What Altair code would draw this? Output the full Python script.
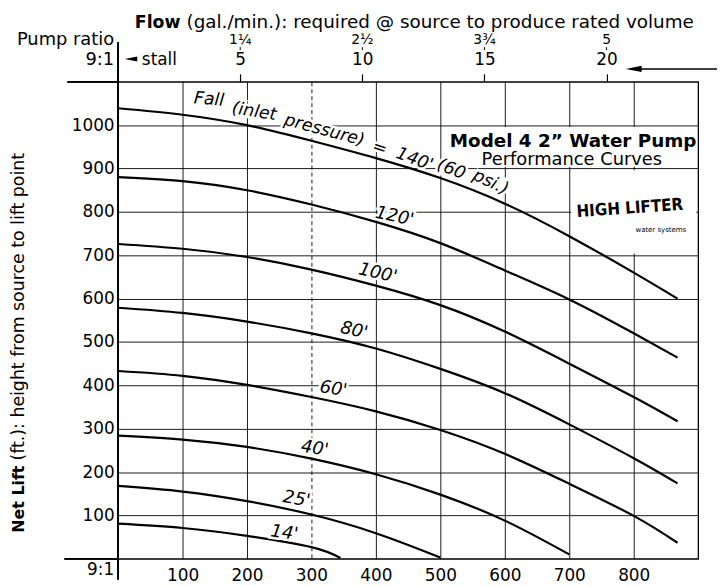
import altair as alt
import pandas as pd

# ---------------- data ----------------
falls = ["140'", "120'", "100'", "80'", "60'", "40'", "25'", "14'"]
x_long = [0, 100, 200, 300, 400, 500, 600, 700, 800, 868]
lift_140 = [1039, 1024, 1000, 964, 924, 878, 819, 744, 660, 600]
lift_120 = [880, 871, 850, 817, 777, 728, 665, 598, 520, 464]
lift_100 = [726, 715, 696, 667, 630, 585, 524, 450, 373, 317]
lift_80 = [579, 567, 547, 520, 485, 438, 382, 310, 232, 174]
lift_60 = [433, 422, 401, 373, 340, 297, 242, 173, 99, 37]
x_40 = [0, 100, 200, 300, 400, 500, 600, 700]
lift_40 = [284, 275, 258, 231, 195, 148, 88, 10]
x_25 = [0, 100, 200, 300, 400, 500]
lift_25 = [168, 155, 133, 102, 59, 3]
x_14 = [0, 100, 200, 300, 345]
lift_14 = [81, 71, 53, 27, 2]

x_ticks = [100, 200, 300, 400, 500, 600, 700, 800]
y_ticks = [100, 200, 300, 400, 500, 600, 700, 800, 900, 1000]

flow_gpm = [5, 10, 15, 20]
flow_frac = ["1¼", "2½", "3¾", "5"]

curve_label_text = ["120'", "100'", "80'", "60'", "40'", "25'", "14'"]
curve_label_x = [429, 403, 366, 334, 305, 277, 258]
curve_label_y = [789, 658, 526, 391, 254, 137, 59]
curve_label_angle = [12, 13, 13, 9, 9, 9, 8]

fall_words = ["Fall", "(inlet", "pressure)", "=", "140'", "(60", "psi.)"]
fall_x = [141, 211, 320, 406, 460, 517, 578]
fall_y = [1059, 1031, 988, 947, 921, 898, 868]
fall_angle = [5, 9, 15, 18, 20, 22, 25]

# white panels behind the title block and the logo
box_x1 = [503, 703]
box_x2 = [897, 897]
box_y1 = [904, 704]
box_y2 = [996, 896]

FONT = "DejaVu Sans"

rows = []
series = [
    ("140'", x_long, lift_140), ("120'", x_long, lift_120), ("100'", x_long, lift_100),
    ("80'", x_long, lift_80), ("60'", x_long, lift_60), ("40'", x_40, lift_40),
    ("25'", x_25, lift_25), ("14'", x_14, lift_14),
]
for name, xs, ys in series:
    for i, (a, b) in enumerate(zip(xs, ys)):
        rows.append({"fall": name, "flow": a, "lift": b, "idx": i})
curve_df = pd.DataFrame(rows)

lab_df = pd.DataFrame({"t": curve_label_text, "lx": curve_label_x, "ly": curve_label_y,
                       "ang": curve_label_angle})
fall_df = pd.DataFrame({"t": fall_words, "lx": fall_x, "ly": fall_y, "ang": fall_angle})
box_df = pd.DataFrame({"x1": box_x1, "x2": box_x2, "y1": box_y1, "y2": box_y2})
top_df = pd.DataFrame({"gpm": flow_gpm, "frac": flow_frac})

xs_scale = alt.Scale(domain=[0, 900], nice=False, zero=False)
ys_scale = alt.Scale(domain=[0, 1100], nice=False, zero=False)

x_axis = alt.Axis(values=x_ticks, title=None, grid=True, gridColor="black", gridWidth=1,
                  gridOpacity=0.9, domain=False, ticks=False, labelFont=FONT,
                  labelFontSize=17, labelColor="black", labelPadding=9,
                  gridDash={"condition": {"test": "datum.value === 300", "value": [4, 3]},
                            "value": []})
y_axis = alt.Axis(values=y_ticks, title=None, grid=True, gridColor="black", gridWidth=1,
                  gridOpacity=0.9, domain=False, ticks=False, labelFont=FONT,
                  labelFontSize=17, labelColor="black", labelPadding=4, format="d")


def X(field):
    return alt.X(field, scale=xs_scale, axis=x_axis)


def Y(field):
    return alt.Y(field, scale=ys_scale, axis=y_axis)


boxes = alt.Chart(box_df).mark_rect(fill="white", strokeWidth=0).encode(
    x=X("x1:Q"), x2="x2:Q", y=Y("y1:Q"), y2="y2:Q")

curves = alt.Chart(curve_df).mark_line(color="black", strokeWidth=2.2,
                                       interpolate="natural").encode(
    x=X("flow:Q"), y=Y("lift:Q"), detail="fall:N", order="idx:Q")

lab_halo = alt.Chart(lab_df).mark_text(font=FONT, fontSize=18, fontStyle="italic",
                                       stroke="white", strokeWidth=5, fill="white").encode(
    x=X("lx:Q"), y=Y("ly:Q"), angle=alt.Angle("ang:Q", scale=None), text="t:N")
lab_text = alt.Chart(lab_df).mark_text(font=FONT, fontSize=18, fontStyle="italic",
                                       color="black").encode(
    x=X("lx:Q"), y=Y("ly:Q"), angle=alt.Angle("ang:Q", scale=None), text="t:N")

fall_halo = alt.Chart(fall_df).mark_text(font=FONT, fontSize=17.5, fontStyle="italic",
                                         stroke="white", strokeWidth=5, fill="white").encode(
    x=X("lx:Q"), y=Y("ly:Q"), angle=alt.Angle("ang:Q", scale=None), text="t:N")
fall_text = alt.Chart(fall_df).mark_text(font=FONT, fontSize=17.5, fontStyle="italic",
                                         color="black").encode(
    x=X("lx:Q"), y=Y("ly:Q"), angle=alt.Angle("ang:Q", scale=None), text="t:N")

title_df = pd.DataFrame({"t": ["Model 4 2\u201d Water Pump"], "lx": [706], "ly": [949]})
sub_df = pd.DataFrame({"t": ["Performance Curves"], "lx": [704], "ly": [909]})
model_title = alt.Chart(title_df).mark_text(font=FONT, fontSize=18.5, fontWeight="bold",
                                            baseline="alphabetic", color="black").encode(
    x=X("lx:Q"), y=Y("ly:Q"), text="t:N")
model_sub = alt.Chart(sub_df).mark_text(font=FONT, fontSize=18, baseline="alphabetic",
                                        color="black").encode(
    x=X("lx:Q"), y=Y("ly:Q"), text="t:N")

logo_df = pd.DataFrame({"t": ["HIGH LIFTER"], "lx": [794], "ly": [808]})
logo_sub_df = pd.DataFrame({"t": ["water systems"], "lx": [842], "ly": [758]})
logo = alt.Chart(logo_df).mark_text(
    font="DejaVu Sans Condensed, Liberation Sans Narrow, Liberation Sans",
    fontSize=17, fontWeight="bold", angle=356, color="black").encode(
    x=X("lx:Q"), y=Y("ly:Q"), text="t:N")
logo_sub = alt.Chart(logo_sub_df).mark_text(font=FONT, fontSize=7, color="black").encode(
    x=X("lx:Q"), y=Y("ly:Q"), text="t:N")

# frame extensions and decorations
left_line = alt.Chart(top_df).mark_rule(color="black", strokeWidth=1.3).encode(
    x=alt.value(0), y=alt.value(-40), y2=alt.value(502))
top_ext = alt.Chart(top_df).mark_rule(color="black", strokeWidth=1.3).encode(
    x=alt.value(-51), x2=alt.value(0), y=alt.value(0))
bot_ext = alt.Chart(top_df).mark_rule(color="black", strokeWidth=1.3).encode(
    x=alt.value(-54), x2=alt.value(0), y=alt.value(481))


def txt(t, x, y, align="left", size=17, weight="normal", angle=0, baseline="alphabetic"):
    d = pd.DataFrame({"t": [t]})
    return alt.Chart(d).mark_text(font=FONT, fontSize=size, fontWeight=weight, align=align,
                                  baseline=baseline, angle=angle, color="black").encode(
        x=alt.value(x), y=alt.value(y), text="t:N")


annots = [
    txt("Flow", 63, -54, align="right", weight="bold", size=17.5),
    txt("(gal./min.): required @ source to produce rated volume", 69, -54, size=18.5),
    txt("Pump ratio", -4, -37, align="right", size=18),
    txt("9:1", -4, -17, align="right", size=18),
    txt("stall", 24, -17, size=17),
    txt("9:1", -4, 497, align="right", size=17),
    txt("Net Lift", -95, 387, align="right", weight="bold", size=16, angle=270),
    txt("(ft.): height from source to lift point", -95, 382, align="left", size=17.5,
        angle=270),
]

arrow_shape = "M -1 0 L 1 -0.4 L 1 0.4 Z"
stall_arrow = alt.Chart(top_df.head(1)).mark_point(shape=arrow_shape, filled=True,
                                                   color="black", size=160, opacity=1).encode(
    x=alt.value(13), y=alt.value(-23))
right_head = alt.Chart(top_df.head(1)).mark_point(shape=arrow_shape, filled=True,
                                                  color="black", size=256, opacity=1).encode(
    x=alt.value(520), y=alt.value(-13))
right_shaft = alt.Chart(top_df.head(1)).mark_rule(color="black", strokeWidth=1.5).encode(
    x=alt.value(522), x2=alt.value(604), y=alt.value(-13))

main = alt.layer(boxes, curves, lab_halo, lab_text, fall_halo, fall_text, model_title,
                 model_sub, logo, logo_sub, left_line, top_ext, bot_ext, stall_arrow,
                 right_head, right_shaft, *annots)

top_axis = alt.Axis(orient="top", values=flow_gpm, title=None, grid=False, domain=False,
                    ticks=True, tickSize=8, tickColor="black", tickWidth=1.2,
                    labelFont=FONT, labelFontSize=17, labelColor="black", labelPadding=5)
top_scale = alt.Scale(domain=[0, 23.75], nice=False, zero=True)
fracs = alt.Chart(top_df).mark_text(font=FONT, fontSize=14, baseline="middle",
                                    color="black").encode(
    x=alt.X("gpm:Q", scale=top_scale, axis=top_axis), y=alt.value(-42), text="frac:N")
frac_ticks = alt.Chart(top_df).mark_rule(color="black", strokeWidth=1).encode(
    x=alt.X("gpm:Q", scale=top_scale, axis=top_axis), y=alt.value(-35), y2=alt.value(-32))
top_layer = alt.layer(fracs, frac_ticks)

chart = alt.layer(main, top_layer).resolve_scale(x="independent").properties(
    width=585, height=481,
    padding={"left": 111, "top": 72, "right": 20, "bottom": 24},
    autosize=alt.AutoSizeParams(type="none"),
    background="white",
).configure_view(stroke="black", strokeWidth=1.3)

chart.save("out.html", embed_options={"renderer": "svg", "actions": False})
